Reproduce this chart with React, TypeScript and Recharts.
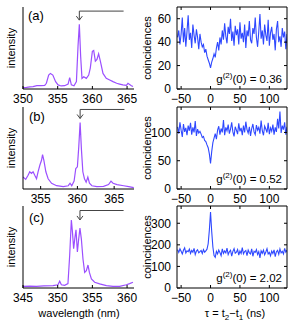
import { LineChart, Line, XAxis, YAxis, ReferenceLine } from "recharts";

const FONT = '"Liberation Sans", Arial, Helvetica, sans-serif';
const purple = "#9b4fff";
const blue = "#2e48ff";
const arrowGray = "#444";

// ---- spectra: wavelength (nm) and normalized intensity ----
const specAWl = [350.0, 350.5, 351.0, 351.44, 352.0, 352.6, 353.13, 353.37, 353.7, 353.95, 354.3, 354.7, 355.05, 355.5, 356.0, 356.5, 356.73, 356.97, 357.35, 357.7, 357.93, 358.12, 358.31, 358.5, 358.75, 359.13, 359.47, 359.7, 360.0, 360.19, 360.43, 360.66, 360.9, 361.15, 361.53, 362.0, 362.5, 362.97, 363.5, 363.93, 364.4, 364.9, 365.13, 365.62, 365.85];
const specAInt = [0.016, 0.02, 0.025, 0.03, 0.04, 0.042, 0.045, 0.07, 0.17, 0.19, 0.17, 0.09, 0.05, 0.037, 0.04, 0.06, 0.14, 0.05, 0.04, 0.09, 0.52, 0.79, 0.4, 0.13, 0.15, 0.13, 0.17, 0.255, 0.46, 0.47, 0.34, 0.36, 0.43, 0.34, 0.19, 0.13, 0.11, 0.09, 0.07, 0.06, 0.05, 0.045, 0.07, 0.04, 0.03];

const specBWl = [352.6, 352.97, 353.29, 353.52, 353.75, 353.97, 354.2, 354.44, 354.65, 354.89, 355.12, 355.26, 355.44, 355.71, 356.02, 356.49, 357.17, 358.08, 358.76, 359.0, 359.23, 359.55, 359.78, 360.0, 360.19, 360.37, 360.55, 360.74, 360.96, 361.19, 361.42, 361.64, 361.97, 362.65, 363.56, 364.24, 364.57, 364.85, 365.39, 366.3, 366.98, 367.67];
const specBInt = [0.146, 0.117, 0.167, 0.21, 0.19, 0.21, 0.167, 0.125, 0.21, 0.29, 0.35, 0.42, 0.35, 0.21, 0.125, 0.07, 0.04, 0.03, 0.04, 0.07, 0.04, 0.096, 0.25, 0.27, 0.52, 0.81, 0.48, 0.21, 0.125, 0.083, 0.146, 0.07, 0.04, 0.03, 0.033, 0.054, 0.096, 0.07, 0.054, 0.04, 0.03, 0.017];

const specCWl = [345.0, 346.0, 346.93, 348.0, 349.32, 350.04, 350.29, 350.53, 351.0, 351.48, 351.73, 351.97, 352.12, 352.3, 352.5, 352.64, 352.84, 353.03, 353.21, 353.41, 353.65, 353.89, 354.13, 354.37, 354.57, 354.86, 355.33, 356.05, 357.02, 357.97, 358.93, 359.9, 360.37, 360.85];
const specCInt = [0.02, 0.022, 0.02, 0.025, 0.03, 0.04, 0.083, 0.04, 0.033, 0.054, 0.4, 0.83, 0.69, 0.48, 0.625, 0.71, 0.44, 0.6, 0.73, 0.6, 0.35, 0.19, 0.21, 0.28, 0.19, 0.11, 0.07, 0.05, 0.03, 0.02, 0.02, 0.04, 0.054, 0.07];

// ---- coincidence histograms: tau (ns) and counts ----
const tauNs = [
  -56, -54, -52, -50, -48, -46, -44, -42, -40, -38,
  -36, -34, -32, -30, -28, -26, -24, -22, -20, -18,
  -16, -14, -12, -10, -8, -6, -4, -2, 0, 2,
  4, 6, 8, 10, 12, 14, 16, 18, 20, 22,
  24, 26, 28, 30, 32, 34, 36, 38, 40, 42,
  44, 46, 48, 50, 52, 54, 56, 58, 60, 62,
  64, 66, 68, 70, 72, 74, 76, 78, 80, 82,
  84, 86, 88, 90, 92, 94, 96, 98, 100, 102,
  104, 106, 108, 110, 112, 114, 116, 118, 120, 122,
  124, 126, 128, 130,
];
const g2A = [
  44, 50, 38, 47, 61, 40, 52, 36, 49, 63,
  42, 48, 35, 55, 46, 39, 51, 44, 34, 47,
  40, 36, 38, 31, 34, 28, 25, 22, 18, 23,
  26, 30, 27, 35, 40, 33, 44, 38, 50, 42,
  56, 45, 39, 53, 47, 60, 41, 49, 37, 54,
  46, 51, 38, 57, 43, 48, 40, 55, 35, 50,
  45, 58, 42, 39, 52, 47, 61, 44, 36, 49,
  64, 43, 50, 38, 55, 46, 41, 59, 37, 48,
  53, 42, 47, 33, 51, 58, 40, 45, 36, 52,
  44, 49, 34, 47,
];
const g2B = [
  110, 98, 118, 104, 92, 115, 101, 108, 95, 112,
  103, 117, 96, 109, 100, 120, 94, 106, 99, 102,
  97, 91, 93, 86, 84, 78, 73, 62, 45, 66,
  82, 90, 98, 88, 104, 111, 96, 107, 100, 122,
  95, 109, 103, 114, 98, 106, 118, 101, 93, 110,
  104, 97, 116, 102, 108, 95, 112, 100, 119, 105,
  99, 110, 94, 107, 115, 101, 96, 113, 104, 109,
  98, 121, 103, 95, 111, 106, 100, 117, 97, 108,
  102, 114, 96, 109, 101, 124, 107, 137, 99, 112,
  105, 118, 96, 110,
];
const g2C = [
  178, 165, 182, 170, 158, 175, 186, 162, 172, 168,
  180, 160, 174, 166, 184, 155, 171, 177, 163, 169,
  174, 160, 178, 166, 172, 180, 205, 268, 352, 262,
  190, 150, 142, 170, 158, 176, 164, 150, 181, 160,
  172, 163, 185, 155, 168, 175, 148, 170, 182, 161,
  166, 178, 152, 171, 160, 187, 158, 169, 174, 150,
  176, 163, 158, 181, 147, 170, 165, 178, 155, 168,
  140, 172, 161, 176, 154, 167, 182, 158, 165, 149,
  171, 160, 177, 145, 168, 174, 156, 181, 163, 170,
  158, 184, 166, 176,
];

const tauTicks = [-50, 0, 50, 100];
const XM = 5; // x tick margin
const YM = 6; // y tick margin

const fmt = (v: number) => (v < 0 ? "\u2212" + Math.abs(v) : String(v));

// inward MATLAB-like ticks
const BottomTick = (props: any) => {
  const { x, y, payload } = props;
  const ay = y - XM;
  return (
    <g>
      <line x1={x} x2={x} y1={ay} y2={ay - 3} stroke="#000" />
      <text x={x} y={y} dy="0.71em" textAnchor="middle" fontSize={12} fontFamily={FONT} fill="#000">
        {fmt(payload.value)}
      </text>
    </g>
  );
};
const LeftTick = (props: any) => {
  const { x, y, payload } = props;
  const ax = x + YM;
  return (
    <g>
      <line x1={ax} x2={ax + 3} y1={y} y2={y} stroke="#000" />
      <text x={x} y={y} dy="0.355em" textAnchor="end" fontSize={12} fontFamily={FONT} fill="#000">
        {fmt(payload.value)}
      </text>
    </g>
  );
};
const TopTick = (props: any) => {
  const { x, y } = props;
  return <line x1={x} x2={x} y1={y} y2={y + 3} stroke="#000" />;
};
const RightTick = (props: any) => {
  const { x, y } = props;
  return <line x1={x} x2={x - 3} y1={y} y2={y} stroke="#000" />;
};

const ArrowDown = (props: any) => {
  const { x1, y1, x2, y2 } = props;
  return (
    <g stroke={arrowGray} strokeWidth={1} fill="none">
      <line x1={x1} y1={y1} x2={x2} y2={y2} />
      <polyline points={`${x2 - 3},${y2 - 4} ${x2},${y2} ${x2 + 3},${y2 - 4}`} />
    </g>
  );
};

type SpecProps = {
  wl: number[];
  inten: number[];
  domain: [number, number];
  ticks: number[];
  peak: number;
  armEnd: number;
  armY: number;
  tipY: number;
  top: number;
};

function SpectrumPanel({ wl, inten, domain, ticks, peak, armEnd, armY, tipY, top }: SpecProps) {
  const data = wl.map((w, i) => ({ wl: w, v: inten[i] }));
  return (
    <div style={{ position: "absolute", left: 0, top }}>
      <LineChart width={150} height={110} data={data} margin={{ top: 7, right: 16, bottom: 1, left: 22 }}>
        <XAxis
          dataKey="wl"
          type="number"
          domain={domain}
          ticks={ticks}
          interval={0}
          allowDataOverflow
          tickLine={false}
          tickSize={0}
          tickMargin={XM}
          tick={<BottomTick />}
          height={20}
          stroke="#000"
        />
        <YAxis type="number" domain={[0, 1]} tick={false} tickLine={false} width={1} stroke="#000" />
        <ReferenceLine
          segment={[
            { x: peak, y: armY },
            { x: armEnd, y: armY },
          ]}
          stroke={arrowGray}
          strokeWidth={1}
        />
        <ReferenceLine
          segment={[
            { x: peak, y: armY },
            { x: peak, y: tipY },
          ]}
          shape={ArrowDown}
        />
        <Line type="linear" dataKey="v" stroke={purple} strokeWidth={1.2} dot={false} isAnimationActive={false} />
      </LineChart>
    </div>
  );
}

type G2Props = {
  counts: number[];
  yMax: number;
  yTicks: number[];
  top: number;
};

function G2Panel({ counts, yMax, yTicks, top }: G2Props) {
  const data = tauNs.map((t, i) => ({ t, c: counts[i] }));
  const xDom: [number, number] = [-57, 130];
  return (
    <div style={{ position: "absolute", left: 150, top }}>
      <LineChart width={142} height={110} data={data} margin={{ top: 6, right: 4, bottom: 1, left: 0 }}>
        <XAxis
          dataKey="t"
          type="number"
          domain={xDom}
          ticks={tauTicks}
          interval={0}
          allowDataOverflow
          tickLine={false}
          tickSize={0}
          tickMargin={XM}
          tick={<BottomTick />}
          height={20}
          stroke="#000"
        />
        <XAxis
          xAxisId="top"
          orientation="top"
          dataKey="t"
          type="number"
          domain={xDom}
          ticks={tauTicks}
          interval={0}
          allowDataOverflow
          tickLine={false}
          tickSize={0}
          tickMargin={0}
          tick={<TopTick />}
          height={1}
          stroke="#000"
        />
        <YAxis
          type="number"
          domain={[0, yMax]}
          ticks={yTicks}
          interval={0}
          allowDataOverflow
          tickLine={false}
          tickSize={0}
          tickMargin={YM}
          tick={<LeftTick />}
          width={27}
          stroke="#000"
        />
        <YAxis
          yAxisId="r"
          orientation="right"
          type="number"
          domain={[0, yMax]}
          ticks={yTicks}
          interval={0}
          allowDataOverflow
          tickLine={false}
          tickSize={0}
          tickMargin={0}
          tick={<RightTick />}
          width={1}
          stroke="#000"
        />
        <Line type="linear" dataKey="c" stroke={blue} strokeWidth={1.1} dot={false} isAnimationActive={false} />
      </LineChart>
    </div>
  );
}

const txt = (style: React.CSSProperties, children: React.ReactNode) => (
  <div style={{ position: "absolute", whiteSpace: "nowrap", lineHeight: 1, ...style }}>{children}</div>
);
const vlabel = (cx: number, cy: number, s: string) =>
  txt({ left: cx, top: cy, fontSize: 11, transform: "translate(-50%, -50%) rotate(-90deg)" }, s);

const G2Text = ({ v, cy }: { v: string; cy: number }) =>
  txt(
    { right: 292 - 282, top: cy - 6, fontSize: 11.5 },
    <>
      g<span style={{ fontSize: 8, position: "relative", top: -5 }}>(2)</span>(0) = {v}
    </>
  );

export default function App() {
  return (
    <div
      style={{
        position: "absolute",
        left: 0,
        top: 0,
        width: 292,
        height: 327,
        background: "#fff",
        fontFamily: FONT,
        color: "#000",
        overflow: "hidden",
      }}
    >
      <SpectrumPanel wl={specAWl} inten={specAInt} domain={[350, 366]} ticks={[350, 355, 360, 365]} peak={358.12} armEnd={364.5} armY={0.95} tipY={0.84} top={0} />
      <SpectrumPanel wl={specBWl} inten={specBInt} domain={[352.6, 367.7]} ticks={[355, 360, 365]} peak={360.37} armEnd={366.4} armY={0.97} tipY={0.86} top={100} />
      <SpectrumPanel wl={specCWl} inten={specCInt} domain={[345, 361]} ticks={[345, 350, 355, 360]} peak={353.21} armEnd={359.5} armY={0.945} tipY={0.83} top={199} />

      <G2Panel counts={g2A} yMax={70} yTicks={[0, 20, 40, 60]} top={0} />
      <G2Panel counts={g2B} yMax={145} yTicks={[0, 50, 100]} top={100} />
      <G2Panel counts={g2C} yMax={380} yTicks={[0, 100, 200, 300]} top={199} />

      {txt({ left: 28, top: 9, fontSize: 13 }, "(a)")}
      {txt({ left: 29, top: 110, fontSize: 13 }, "(b)")}
      {txt({ left: 29, top: 211, fontSize: 13 }, "(c)")}

      {vlabel(10.5, 48, "intensity")}
      {vlabel(10.5, 148, "intensity")}
      {vlabel(10.5, 247, "intensity")}
      {vlabel(147, 48, "coincidences")}
      {vlabel(147, 148, "coincidences")}
      {vlabel(147, 247, "coincidences")}

      <G2Text v="0.36" cy={80} />
      <G2Text v="0.52" cy={180} />
      <G2Text v="2.02" cy={279} />

      {txt({ left: 79, top: 313, fontSize: 11, transform: "translate(-50%, -50%)" }, "wavelength (nm)")}
      {txt(
        { left: 235, top: 313, fontSize: 11, transform: "translate(-50%, -50%)" },
        <>
          τ = t<span style={{ fontSize: 8, position: "relative", top: 3 }}>2</span>−t
          <span style={{ fontSize: 8, position: "relative", top: 3 }}>1</span> (ns)
        </>
      )}
    </div>
  );
}
